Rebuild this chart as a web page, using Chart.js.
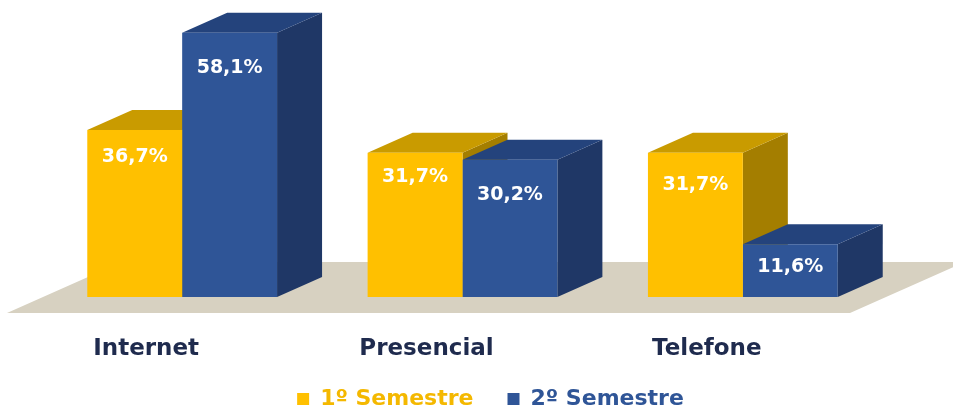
<!DOCTYPE html>
<html>
<head>
<meta charset="utf-8">
<script src="https://cdn.jsdelivr.net/npm/chart.js@4/dist/chart.umd.min.js"></script>
<style>
  html, body { margin: 0; padding: 0; background: #ffffff; }
  #wrap { width: 953px; height: 409px; }
</style>
</head>
<body>
<div id="wrap"><canvas id="chart"></canvas></div>
<script>
// Canais de atendimento por semestre (%)
const categories = ['Internet', 'Presencial', 'Telefone'];
const seriesNames = ['1º Semestre', '2º Semestre'];
const semestre1 = [36.7, 31.7, 31.7];
const semestre2 = [58.1, 30.2, 11.6];
const yMax = 62;

// Cores: face frontal, topo e lateral de cada série
const frontColors = ['#FFC000', '#2F5597'];
const topColors = ['#C99B00', '#24437C'];
const sideColors = ['#A47E00', '#1F3766'];
const legendTextColors = ['#F4B800', '#2F5597'];

// Profundidade da perspectiva das barras
const DX = 45, DY = 20;
// Deslocamento vertical (px) dos rótulos de valor a partir do topo de cada barra
const labelDrop = [[27, 24, 32], [35, 35, 23]];

const fmt = v => v.toFixed(1).replace('.', ',') + '%';

const box3d = {
  id: 'box3d',
  beforeDatasetsDraw(chart) {
    const ctx = chart.ctx;
    const area = chart.chartArea;
    const zero = chart.scales.y.getPixelForValue(0);
    ctx.save();
    // piso
    const fy = zero + 16, back = 51, k = DX / DY;
    const fx0 = area.left - 35, fx1 = area.right - 33;
    ctx.fillStyle = '#D7D1C1';
    ctx.beginPath();
    ctx.moveTo(fx0, fy);
    ctx.lineTo(fx1, fy);
    ctx.lineTo(fx1 + back * k, fy - back);
    ctx.lineTo(fx0 + back * k, fy - back);
    ctx.closePath();
    ctx.fill();
    // topos e laterais, categoria a categoria
    categories.forEach((_, i) => {
      chart.data.datasets.forEach((ds, d) => {
        const bar = chart.getDatasetMeta(d).data[i];
        const p = bar.getProps(['x', 'y', 'width', 'base'], true);
        const l = p.x - p.width / 2, r = p.x + p.width / 2;
        ctx.fillStyle = sideColors[d];
        ctx.beginPath();
        ctx.moveTo(r, p.y);
        ctx.lineTo(r + DX, p.y - DY);
        ctx.lineTo(r + DX, p.base - DY);
        ctx.lineTo(r, p.base);
        ctx.closePath();
        ctx.fill();
        ctx.fillStyle = topColors[d];
        ctx.beginPath();
        ctx.moveTo(l, p.y);
        ctx.lineTo(r, p.y);
        ctx.lineTo(r + DX, p.y - DY);
        ctx.lineTo(l + DX, p.y - DY);
        ctx.closePath();
        ctx.fill();
      });
    });
    ctx.restore();
  },
  afterDatasetsDraw(chart) {
    const ctx = chart.ctx;
    ctx.save();
    ctx.font = 'bold 19px "DejaVu Sans"';
    ctx.fillStyle = '#FFFFFF';
    ctx.textAlign = 'center';
    ctx.textBaseline = 'middle';
    chart.data.datasets.forEach((ds, d) => {
      chart.getDatasetMeta(d).data.forEach((bar, i) => {
        ctx.fillText(fmt(ds.data[i]), bar.x, bar.y + labelDrop[d][i]);
      });
    });
    ctx.restore();
  }
};

// Aproxima a legenda dos rótulos das categorias
const legendNudge = {
  id: 'legendNudge',
  afterLayout(chart) {
    const lg = chart.legend;
    if (lg) { lg.top -= 9; lg.bottom -= 9; }
  }
};

new Chart(document.getElementById('chart'), {
  type: 'bar',
  data: {
    labels: categories,
    datasets: [
      { label: seriesNames[0], data: semestre1, backgroundColor: frontColors[0] },
      { label: seriesNames[1], data: semestre2, backgroundColor: frontColors[1] }
    ]
  },
  options: {
    responsive: true,
    maintainAspectRatio: false,
    animation: false,
    devicePixelRatio: 1,
    layout: { padding: { left: 42, right: 14, top: 15, bottom: -20 } },
    datasets: { bar: { categoryPercentage: 0.677, barPercentage: 1.0 } },
    scales: {
      x: {
        grid: { display: false, drawTicks: false },
        border: { display: false },
        ticks: {
          padding: 38,
          labelOffset: -36,
          maxRotation: 0,
          color: '#1F2B4E',
          font: { family: 'DejaVu Sans', size: 23, weight: 'bold' }
        },
        afterFit: s => { s.height = 66; }
      },
      y: {
        position: 'right',
        min: 0,
        max: yMax,
        grid: { display: false, drawTicks: false },
        border: { display: false },
        ticks: { display: false },
        afterFit: s => { s.width = 56; }
      }
    },
    plugins: {
      tooltip: { enabled: false },
      legend: {
        position: 'bottom',
        labels: {
          boxWidth: 12,
          boxHeight: 12,
          padding: 34,
          font: { family: 'DejaVu Sans', size: 22, weight: 'bold' },
          generateLabels(chart) {
            const items = Chart.defaults.plugins.legend.labels.generateLabels(chart);
            items.forEach((it, i) => {
              it.fontColor = legendTextColors[i];
              it.lineWidth = 0;
              it.strokeStyle = 'rgba(0,0,0,0)';
            });
            return items;
          }
        }
      }
    }
  },
  plugins: [box3d, legendNudge]
});
</script>
</body>
</html>
